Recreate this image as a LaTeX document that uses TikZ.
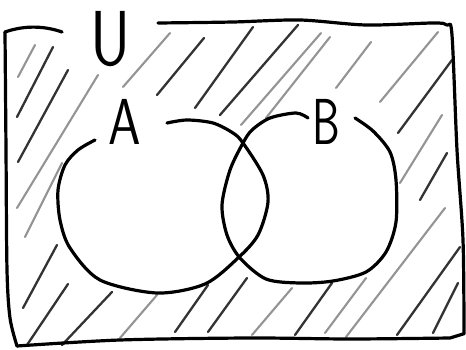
\documentclass[tikz,border=0pt]{standalone}
\usepackage{fontspec}
\begin{document}
\begin{tikzpicture}[x=1pt,y=-1pt]
\tikzset{
  outline/.style={line width=3.2pt, line cap=round, line join=round, black},
  hatchdark/.style={line width=2.3pt, line cap=round, black!80},
  hatchgray/.style={line width=2.1pt, line cap=round, black!42},
  lbl/.style={inner sep=0pt, outer sep=0pt, anchor=base, font=\sffamily\fontsize{65}{65}\selectfont},
}
\useasboundingbox[fill=white] (0,0) rectangle (466,350);
% hatching (outside both circles)
\foreach \xa/\ya/\xb/\yb in {
  17/117/53/47, 18/162/68/70, 23/308/57/245, 27/345/68/284, 62/345/112/292,
  175/332/208/285, 208/332/247/278, 397/335/460/247, 433/333/458/283,
  157/95/204/38, 195/108/253/27, 220/115/298/25, 398/133/452/60, 420/200/447/153,
  295/335/332/283}
  \draw[hatchdark] (\xa,\ya) -- (\xb,\yb);
\foreach \xa/\ya/\xb/\yb in {
  18/77/35/45, 17/208/98/75, 25/237/62/163, 120/338/157/295, 252/335/292/288,
  325/333/366/278, 346/337/445/208, 123/87/170/33, 241/125/321/33, 266/118/330/37,
  336/88/371/42, 380/102/438/32, 400/183/442/115}
  \draw[hatchgray] (\xa,\ya) -- (\xb,\yb);
% universe rectangle
\draw[outline] (5,32) .. controls (25,25) and (45,26) .. (62,32);
\draw[outline] plot[smooth] coordinates {(5,32) (6,150) (7,270) (10,318) (17,346)};
\draw[outline] plot[smooth] coordinates {(17,346) (120,340) (250,338) (350,339) (450,338)} -- (463,334);
\draw[outline] plot[smooth] coordinates {(158,23) (233,22) (300,20) (366,25) (433,23) (447,25) (452,35) (457,150) (463,240) (464,334)};
% circle A
\draw[outline] plot[smooth] coordinates {(95,140) (78,150) (65,165) (58,190) (60,220) (70,248) (100,280) (157,293) (205,284) (238,258) (258,235) (268,202) (263,175) (243,143) (233,133) (213,123) (187,120) (167,123)};
% circle B
\draw[outline] plot[smooth] coordinates {(308,118) (296,113) (270,118) (252,130) (243,143) (230,170) (222,205) (227,235) (240,258) (266,279) (300,283) (333,281) (366,272) (386,252) (396,222) (396,180) (390,152) (373,131) (355,118)};
% labels
\node[lbl, xscale=0.8] (labA) at (125,145) {A};
\node[lbl, xscale=0.68] (labB) at (326,145) {B};
\node[lbl, xscale=0.8, font=\sffamily\fontsize{78}{78}\selectfont] (labU) at (111,66) {U};
\end{tikzpicture}
\end{document}
